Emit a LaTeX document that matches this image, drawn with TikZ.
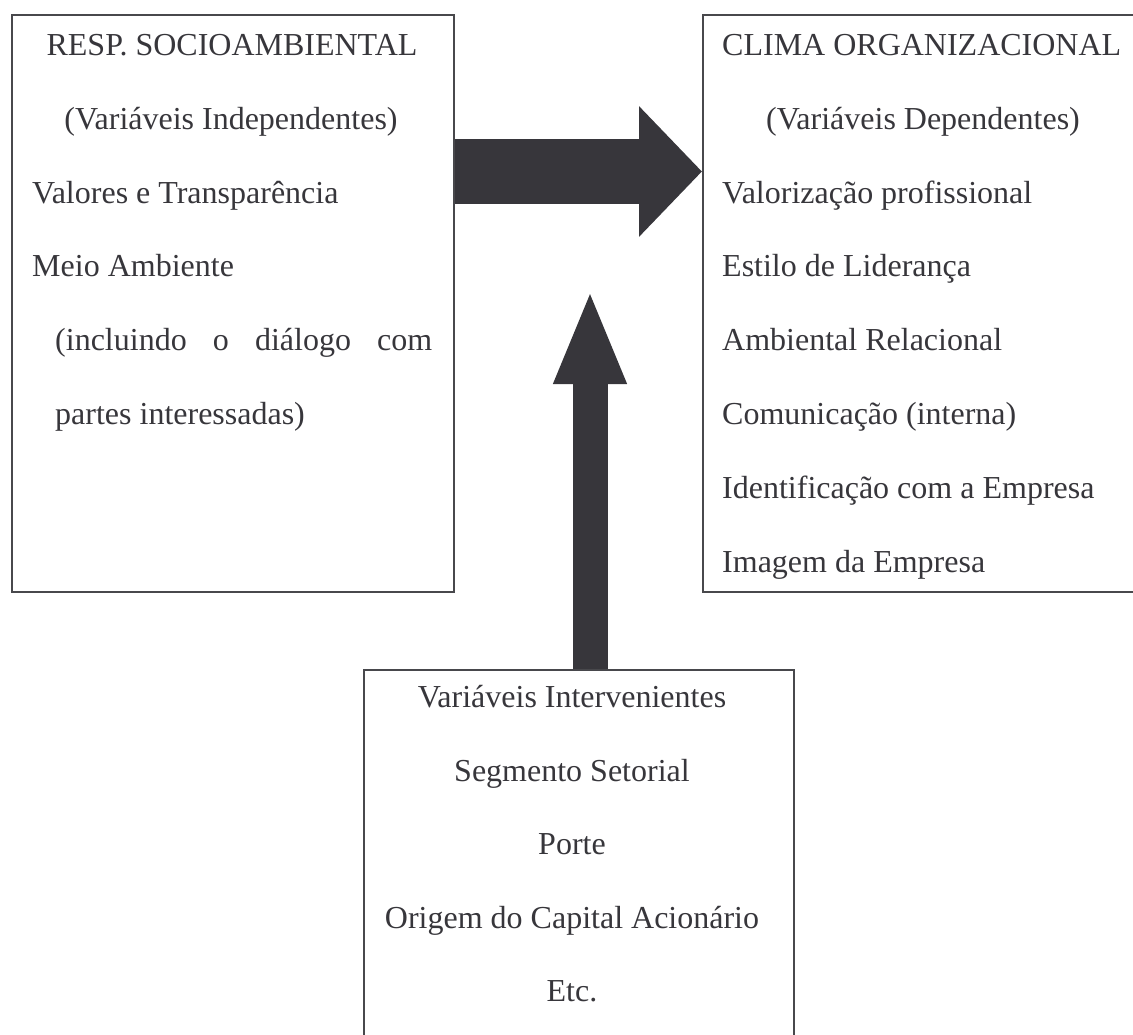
\documentclass[tikz,border=0pt]{standalone}
\usepackage{fontspec}
\setmainfont{Liberation Serif}
\usetikzlibrary{arrows.meta}
\definecolor{ink}{HTML}{37363B}
\definecolor{frame}{HTML}{48484C}

\begin{document}
\begin{tikzpicture}
[x=1pt,y=-1pt]
\tikzset{box/.style={draw=frame,line width=1.6pt,rectangle,anchor=north west,inner sep=0pt}}
\tikzset{txt/.style={anchor=base west,inner sep=0pt,text=ink,font=\fontsize{32}{38}\selectfont}}
\tikzset{ctxt/.style={txt,anchor=base}}
\tikzset{fat/.style={draw=ink,line width=65pt,-{Triangle[length=63pt,width=127pt]}}}
\useasboundingbox (0,0) rectangle (1133,1034);
\clip (0,0) rectangle (1133,1034);

\node [box,minimum width=442pt,minimum height=577pt] (resp) at (11,14) {};
\node [box,minimum width=450pt,minimum height=577pt] (clima) at (702,14) {};
\node [box,minimum width=430pt,minimum height=390pt] (interv) at (363,669) {};

\node [ctxt] (r1) at (232,55.5) {RESP. SOCIOAMBIENTAL};
\node [ctxt] (r2) at (231,129.3) {(Variáveis Independentes)};
\node [txt] (r3) at (32,203) {Valores e Transparência};
\node [txt] (r4) at (32,276.8) {Meio Ambiente};
\node [txt] (r5) at (55,350.7) {\makebox[377pt][s]{(incluindo o diálogo com}};
\node [txt] (r6) at (55,424.5) {partes interessadas)};

\node [txt] (c1) at (722,55.5) {CLIMA ORGANIZACIONAL};
\node [txt] (c2) at (766,129.3) {(Variáveis Dependentes)};
\node [txt] (c3) at (722,203) {Valorização profissional};
\node [txt] (c4) at (722,276.8) {Estilo de Liderança};
\node [txt] (c5) at (722,350.7) {Ambiental Relacional};
\node [txt] (c6) at (722,424.5) {Comunicação (interna)};
\node [txt] (c7) at (722,498.3) {Identificação com a Empresa};
\node [txt] (c8) at (722,572) {Imagem da Empresa};

\node [ctxt] (i1) at (572,707.5) {Variáveis Intervenientes};
\node [ctxt] (i2) at (572,781) {Segmento Setorial};
\node [ctxt] (i3) at (572,854.5) {Porte};
\node [ctxt] (i4) at (572,928) {Origem do Capital Acionário};
\node [ctxt] (i5) at (572,1001.5) {Etc.};

\coordinate (armY) at (0,171.5);
\coordinate (upTip) at (590,289);

\draw [fat] (resp.east |- armY) -- (clima.west |- armY);
\draw [fat,line width=35pt,-{Triangle[length=95pt,width=66pt]}] (interv.north -| upTip) -- (upTip);
\end{tikzpicture}
\end{document}
